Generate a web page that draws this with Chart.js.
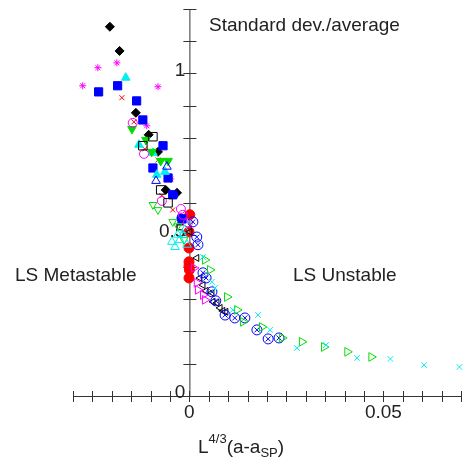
<!DOCTYPE html>
<html>
<head>
<meta charset="utf-8">
<script src="https://cdn.jsdelivr.net/npm/chart.js@4/dist/chart.umd.min.js"></script>
<style>
  html, body { margin: 0; padding: 0; background: #fff; }
  #chart { display: block; }
</style>
</head>
<body>
<canvas id="chart" width="475" height="459"></canvas>
<script>
// ===================================================
// Standard dev./average vs L^{4/3}(a-a_SP) scatter
// ===================================================

// Axis ticks and labels
var xTicks = [-0.03, -0.025, -0.02, -0.015, -0.01, -0.005, 0, 0.005, 0.01, 0.015, 0.02, 0.025, 0.03, 0.035, 0.04, 0.045, 0.05, 0.055, 0.06, 0.065, 0.07];
var yTicks = [0, 0.1, 0.2, 0.3, 0.4, 0.5, 0.6, 0.7, 0.8, 0.9, 1.0, 1.1, 1.2];
var xLabelValues = [0, 0.05];
var xLabelText = ['0', '0.05'];
var yLabelValues = [0, 0.5, 1];
var yLabelText = ['0', '0.5', '1'];

// Series values, [x, y]
var blackDiamond = [[-0.0205, 1.145], [-0.0180, 1.070], [-0.0138, 0.878], [-0.0105, 0.810], [-0.0081, 0.757], [-0.0061, 0.639], [-0.0032, 0.630]];
var blueSquare = [[-0.0234, 0.943], [-0.0185, 0.962], [-0.0136, 0.915], [-0.0120, 0.856], [-0.0068, 0.776], [-0.0094, 0.707], [-0.0055, 0.676], [-0.0043, 0.624], [-0.0019, 0.549]];
var magentaStar = [[-0.0275, 0.962], [-0.0236, 1.018], [-0.0187, 1.033], [-0.0081, 0.959], [-0.0110, 0.838], [-0.0048, 0.673]];
var cyanFilledTri = [[-0.0164, 0.987], [-0.0130, 0.779], [-0.0094, 0.754], [-0.0084, 0.686], [-0.0063, 0.695]];
var greenFilledDown = [[-0.0148, 0.828], [-0.0112, 0.794], [-0.0097, 0.757], [-0.0074, 0.729], [-0.0055, 0.729]];
var greenOpenDown = [[-0.0094, 0.593], [-0.0081, 0.577], [-0.0043, 0.540], [-0.0030, 0.527], [-0.0014, 0.484]];
var magentaCircle = [[-0.0146, 0.847], [-0.0117, 0.751], [-0.0071, 0.605], [-0.0022, 0.580], [-0.0017, 0.562], [-0.0004, 0.537]];
var redCross = [[-0.0174, 0.925], [-0.0143, 0.850], [-0.0115, 0.766], [-0.0081, 0.732], [-0.0071, 0.621], [-0.0043, 0.577], [-0.0004, 0.521]];
var blackOpenSquare = [[-0.0094, 0.804], [-0.0120, 0.776], [-0.0074, 0.639], [-0.0055, 0.599]];
var blueOpenTri = [[-0.0086, 0.667], [-0.0058, 0.711]];
var blueFilledCircle = [[-0.0040, 0.624], [-0.0022, 0.552]];
var cyanOpenTri = [[-0.0045, 0.478], [-0.0037, 0.462], [-0.0030, 0.500], [-0.0025, 0.484], [-0.0017, 0.500], [-0.0012, 0.515], [-0.0006, 0.469]];
var redCircle = [[0.0001, 0.562], [-0.0001, 0.509], [-0.0001, 0.459], [-0.0001, 0.416], [-0.0001, 0.403], [0.0000, 0.391], [-0.0001, 0.366]];
var blueCircleX = [[0.0009, 0.540], [0.0019, 0.493], [0.0022, 0.469], [0.0035, 0.382], [0.0043, 0.366], [0.0058, 0.323], [0.0068, 0.295], [0.0092, 0.251], [0.0117, 0.242], [0.0143, 0.242], [0.0174, 0.205], [0.0203, 0.177], [0.0231, 0.180]];
var blackLeftTri = [[0.0001, 0.509], [0.0019, 0.428], [0.0027, 0.366], [0.0035, 0.344], [0.0043, 0.326], [0.0058, 0.320], [0.0061, 0.292], [0.0071, 0.289], [0.0079, 0.273], [0.0086, 0.264], [0.0094, 0.261]];
var magentaRightTri = [[0.0012, 0.397], [0.0019, 0.351], [0.0022, 0.329], [0.0035, 0.313], [0.0040, 0.298]];
var greenRightTri = [[0.0040, 0.422], [0.0053, 0.391], [0.0097, 0.307], [0.0123, 0.267], [0.0138, 0.230], [0.0187, 0.214], [0.0239, 0.180], [0.0290, 0.168], [0.0347, 0.152], [0.0407, 0.137], [0.0469, 0.121]];
var cyanCross = [[0.0035, 0.431], [0.0058, 0.354], [0.0066, 0.335], [0.0112, 0.267], [0.0177, 0.251], [0.0208, 0.205], [0.0277, 0.149], [0.0352, 0.158], [0.0432, 0.118], [0.0518, 0.115], [0.0605, 0.096], [0.0696, 0.090]];

var FONT = '"Liberation Sans", Arial, Helvetica, sans-serif';
var INK = '#222';

/**
 * Turn [x, y] pairs into Chart.js points
 */
function toPoints(arr) {
  return arr.map(function(p) { return { x: p[0], y: p[1] }; });
}

/**
 * Build one marker dataset
 */
function series(arr, color, style, radius, filled, rotation) {
  return {
    data: toPoints(arr),
    pointStyle: style,
    pointRadius: radius,
    pointRotation: rotation || 0,
    borderColor: color,
    backgroundColor: filled ? color : 'rgba(0,0,0,0)',
    pointBorderWidth: 1,
    showLine: false,
    clip: false
  };
}

/**
 * Axes crossing at x = 0, ticks through the line, and free text
 */
var axesPlugin = {
  id: 'crossAxes',
  beforeDatasetsDraw: function(chart) {
    var ctx = chart.ctx;
    var xs = chart.scales.x;
    var ys = chart.scales.y;
    var x0 = xs.getPixelForValue(0);
    var y0 = ys.getPixelForValue(0);

    ctx.save();
    ctx.strokeStyle = '#333';
    ctx.lineWidth = 1;

    // x axis
    ctx.beginPath();
    ctx.moveTo(xs.getPixelForValue(xTicks[0]), y0 + 0.5);
    ctx.lineTo(xs.getPixelForValue(xTicks[xTicks.length - 1]), y0 + 0.5);
    xTicks.forEach(function(v) {
      var px = Math.round(xs.getPixelForValue(v)) + 0.5;
      ctx.moveTo(px, y0 - 5);
      ctx.lineTo(px, y0 + 6);
    });
    ctx.stroke();

    // y axis
    ctx.beginPath();
    ctx.moveTo(x0 + 0.5, ys.getPixelForValue(yTicks[0]));
    ctx.lineTo(x0 + 0.5, ys.getPixelForValue(yTicks[yTicks.length - 1]));
    yTicks.forEach(function(v) {
      var py = Math.round(ys.getPixelForValue(v)) + 0.5;
      ctx.moveTo(x0 - 6, py);
      ctx.lineTo(x0 + 7, py);
    });
    ctx.stroke();

    ctx.fillStyle = INK;
    ctx.font = '19px ' + FONT;

    // tick labels
    ctx.textAlign = 'center';
    ctx.textBaseline = 'top';
    xLabelValues.forEach(function(v, i) {
      ctx.fillText(xLabelText[i], xs.getPixelForValue(v), y0 + 7);
    });
    ctx.textAlign = 'right';
    ctx.textBaseline = 'middle';
    yLabelValues.forEach(function(v, i) {
      ctx.fillText(yLabelText[i], x0 - 4, ys.getPixelForValue(v) - 3);
    });

    // annotations
    ctx.textAlign = 'left';
    ctx.textBaseline = 'alphabetic';
    ctx.fillText('Standard dev./average', 209, 31);
    ctx.fillText('LS Metastable', 15, 281);
    ctx.fillText('LS Unstable', 293, 281);

    // axis title L^{4/3}(a-a_SP)
    var tx = 198, base = 453;
    ctx.font = '19px ' + FONT;
    ctx.fillText('L', tx, base);
    tx += ctx.measureText('L').width;
    ctx.font = '13px ' + FONT;
    ctx.fillText('4/3', tx, base - 10);
    tx += ctx.measureText('4/3').width;
    ctx.font = '19px ' + FONT;
    ctx.fillText('(a-a', tx, base);
    tx += ctx.measureText('(a-a').width;
    ctx.font = '13px ' + FONT;
    ctx.fillText('SP', tx, base + 4);
    tx += ctx.measureText('SP').width;
    ctx.font = '19px ' + FONT;
    ctx.fillText(')', tx, base);

    ctx.restore();
  }
};

var BLACK = '#000000', BLUE = '#0000ff', MAGENTA = '#ff00ff', CYAN = '#00f0f0', GREEN = '#00dd00', RED = '#ff0000';

var datasets = [
  series(cyanCross, CYAN, 'crossRot', 4, false),
  series(greenRightTri, GREEN, 'triangle', 5, false, 90),
  series(blueCircleX, BLUE, 'circle', 5, false),
  series(blueCircleX, BLUE, 'crossRot', 3.5, false),
  series(magentaRightTri, MAGENTA, 'triangle', 5, false, 90),
  series(blackLeftTri, BLACK, 'triangle', 4, false, -90),
  series(cyanOpenTri, CYAN, 'triangle', 5, false),
  series(greenOpenDown, GREEN, 'triangle', 4.5, false, 180),
  series(blackOpenSquare, BLACK, 'rect', 6, false),
  series(magentaCircle, MAGENTA, 'circle', 4.5, false),
  series(blueOpenTri, BLUE, 'triangle', 5, false),
  series(greenFilledDown, GREEN, 'triangle', 5, true, 180),
  series(cyanFilledTri, CYAN, 'triangle', 5, true),
  series(blueSquare, BLUE, 'rect', 5.8, true),
  series(blueFilledCircle, BLUE, 'circle', 4, true),
  series(blackDiamond, BLACK, 'rectRot', 4.5, true),
  series(magentaStar, MAGENTA, 'star', 3.5, false),
  series(redCross, RED, 'crossRot', 3.5, false),
  series(redCircle, RED, 'circle', 5, true)
];

new Chart(document.getElementById('chart').getContext('2d'), {
  type: 'scatter',
  data: { datasets: datasets },
  options: {
    responsive: false,
    animation: false,
    layout: { padding: { left: 73, right: 14, top: 9, bottom: 63 } },
    plugins: {
      legend: { display: false },
      tooltip: { enabled: false }
    },
    scales: {
      x: { type: 'linear', min: -0.03, max: 0.07, display: false },
      y: { type: 'linear', min: 0, max: 1.2, display: false }
    }
  },
  plugins: [axesPlugin]
});
</script>
</body>
</html>
